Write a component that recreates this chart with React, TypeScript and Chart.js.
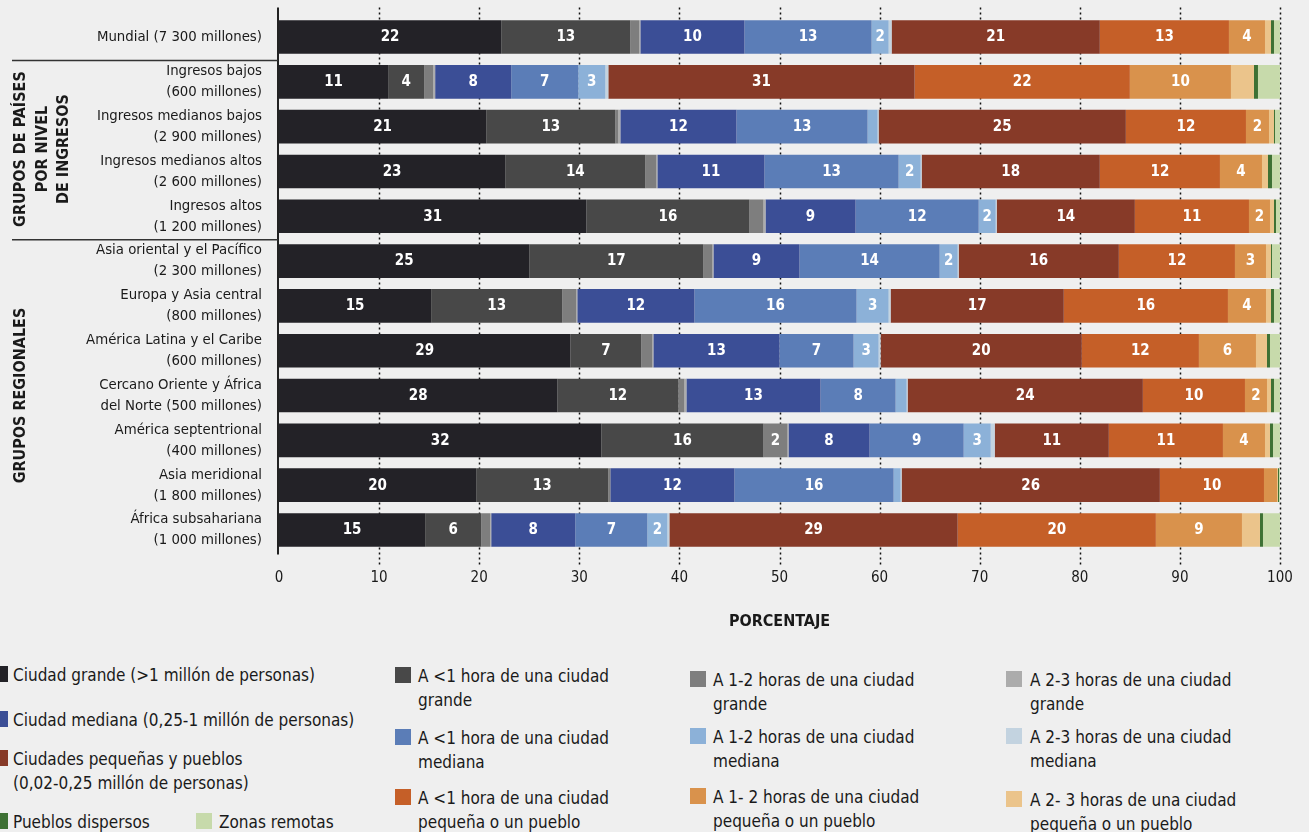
import React, { useEffect, useRef } from "react";
import { Chart, registerables } from "chart.js";

Chart.register(...registerables);

// ---------- DATA ----------
const categories: (string | string[])[] = [
  "Mundial (7 300 millones)",
  ["Ingresos bajos", "(600 millones)"],
  ["Ingresos medianos bajos", "(2 900 millones)"],
  ["Ingresos medianos altos", "(2 600 millones)"],
  ["Ingresos altos", "(1 200 millones)"],
  ["Asia oriental y el Pacífico", "(2 300 millones)"],
  ["Europa y Asia central", "(800 millones)"],
  ["América Latina y el Caribe", "(600 millones)"],
  ["Cercano Oriente y África", "del Norte (500 millones)"],
  ["América septentrional", "(400 millones)"],
  ["Asia meridional", "(1 800 millones)"],
  ["África subsahariana", "(1 000 millones)"],
];

const ciudadGrande = [22.2, 10.9, 20.7, 22.6, 30.7, 25.0, 15.2, 29.1, 27.8, 32.2, 19.7, 14.6];
const menos1hGrande = [12.9, 3.6, 12.9, 14.0, 16.3, 17.4, 13.1, 7.1, 12.1, 16.2, 13.2, 5.6];
const h12Grande = [0.9, 0.9, 0.3, 1.1, 1.4, 0.9, 1.4, 1.1, 0.6, 2.4, 0.2, 0.9];
const h23Grande = [0.1, 0.2, 0.2, 0.1, 0.2, 0.1, 0.1, 0.1, 0.2, 0.1, 0.0, 0.1];
const ciudadMediana = [10.4, 7.6, 11.6, 10.7, 9.0, 8.6, 11.7, 12.6, 13.4, 8.1, 12.4, 8.4];
const menos1hMediana = [12.7, 6.7, 13.1, 13.4, 12.3, 14.0, 16.2, 7.4, 7.5, 9.4, 15.9, 7.2];
const h12Mediana = [1.7, 2.7, 1.0, 2.2, 1.7, 1.8, 3.2, 2.5, 1.1, 2.7, 0.7, 2.0];
const h23Mediana = [0.3, 0.3, 0.1, 0.1, 0.1, 0.1, 0.2, 0.2, 0.1, 0.4, 0.1, 0.2];
const ciudadesPequenas = [20.8, 30.6, 24.7, 17.8, 13.8, 16.0, 17.3, 20.1, 23.5, 11.4, 25.8, 28.8];
const menos1hPequena = [12.9, 21.5, 12.0, 12.0, 11.4, 11.6, 16.4, 11.7, 10.2, 11.4, 10.4, 19.8];
const h12Pequena = [3.6, 10.1, 2.3, 4.2, 2.1, 3.1, 3.8, 5.7, 2.2, 4.2, 1.3, 8.6];
const h23Pequena = [0.6, 2.3, 0.5, 0.6, 0.4, 0.5, 0.5, 1.1, 0.4, 0.5, 0.1, 1.8];
const pueblosDispersos = [0.3, 0.4, 0.1, 0.4, 0.2, 0.1, 0.3, 0.3, 0.3, 0.3, 0.1, 0.3];
const zonasRemotas = [0.6, 2.2, 0.5, 0.8, 0.4, 0.8, 0.6, 1.0, 0.6, 0.7, 0.1, 1.7];

const seriesNames = [
  "Ciudad grande (>1 millón de personas)",
  "A <1 hora de una ciudad\ngrande",
  "A 1-2 horas de una ciudad\ngrande",
  "A 2-3 horas de una ciudad\ngrande",
  "Ciudad mediana (0,25-1 millón de personas)",
  "A <1 hora de una ciudad\nmediana",
  "A 1-2 horas de una ciudad\nmediana",
  "A 2-3 horas de una ciudad\nmediana",
  "Ciudades pequeñas y pueblos\n(0,02-0,25 millón de personas)",
  "A <1 hora de una ciudad\npequeña o un pueblo",
  "A 1- 2 horas de una ciudad\npequeña o un pueblo",
  "A 2- 3 horas de una ciudad\npequeña o un pueblo",
  "Pueblos dispersos",
  "Zonas remotas",
];

const seriesValues = [
  ciudadGrande, menos1hGrande, h12Grande, h23Grande,
  ciudadMediana, menos1hMediana, h12Mediana, h23Mediana,
  ciudadesPequenas, menos1hPequena, h12Pequena, h23Pequena,
  pueblosDispersos, zonasRemotas,
];

const xTickValues = [0, 10, 20, 30, 40, 50, 60, 70, 80, 90, 100];
const axisTitle = "PORCENTAJE";
const groupIncomeLines = ["GRUPOS DE PAÍSES", "POR NIVEL", "DE INGRESOS"];
const groupIncomeRange = [1, 4];
const groupRegionLines = ["GRUPOS REGIONALES"];
const groupRegionRange = [5, 11];
const separatorsAfter = [0, 4];
const labelledSeriesCount = 11;
const minLabelValue = 1.5;

// ---------- STYLE ----------
const colors = [
  "#232227", "#484848", "#7e7e7e", "#acacac",
  "#3b4e96", "#5b7db7", "#8cb1d8", "#c3d3e0",
  "#873a28", "#c55f28", "#d9924c", "#ebc48b",
  "#3e7134", "#c7daab",
];
const BG = "#efefef";
const INK = "#1a1a1a";
const FONT = "'DejaVu Sans Condensed', 'Liberation Sans Narrow', 'Roboto', sans-serif";

// legend slots: [seriesIndex, squareLeft, textLeft, firstLineCenterY]
const legendSlots: [number, number, number, number][] = [
  [0, -8, 13, 675],
  [4, -8, 13, 720],
  [8, -8, 13, 759],
  [12, -8, 13, 822],
  [13, 196, 219, 822],
  [1, 395, 418, 676],
  [5, 395, 418, 738],
  [9, 395, 418, 798],
  [2, 690, 713, 680],
  [6, 690, 713, 737],
  [10, 690, 713, 797],
  [3, 1006, 1030, 680],
  [7, 1006, 1030, 737],
  [11, 1006, 1030, 800],
];

const overlayPlugin = {
  id: "overlay",
  beforeDatasetsDraw(chart: any) {
    const { ctx, chartArea, scales } = chart;
    const x = scales.x;
    ctx.save();
    ctx.strokeStyle = "#111";
    ctx.lineWidth = 1.5;
    ctx.setLineDash([2, 3]);
    for (const v of xTickValues) {
      if (v === 0) continue;
      const px = Math.round(x.getPixelForValue(v)) + 0.5;
      ctx.beginPath();
      ctx.moveTo(px, chartArea.top - 7);
      ctx.lineTo(px, chartArea.bottom + 12);
      ctx.stroke();
    }
    ctx.restore();
  },
  afterDatasetsDraw(chart: any) {
    const { ctx, chartArea, scales } = chart;
    const x = scales.x;
    const y = scales.y;
    ctx.save();
    // axis line at 0
    ctx.strokeStyle = "#222";
    ctx.lineWidth = 2;
    const x0 = Math.round(x.getPixelForValue(0)) - 1;
    ctx.beginPath();
    ctx.moveTo(x0, chartArea.top - 7);
    ctx.lineTo(x0, chartArea.bottom + 2);
    ctx.stroke();
    // group separators
    ctx.lineWidth = 1.5;
    ctx.strokeStyle = "#333";
    for (const i of separatorsAfter) {
      const yy = (y.getPixelForValue(i) + y.getPixelForValue(i + 1)) / 2 + 1;
      ctx.beginPath();
      ctx.moveTo(12, yy);
      ctx.lineTo(x0, yy);
      ctx.stroke();
    }
    // group labels
    ctx.fillStyle = INK;
    ctx.font = `bold 16px ${FONT}`;
    ctx.textAlign = "center";
    ctx.textBaseline = "middle";
    const drawGroup = (lines: string[], range: number[]) => {
      const cy = (y.getPixelForValue(range[0]) + y.getPixelForValue(range[1])) / 2;
      ctx.save();
      ctx.translate(21, cy);
      ctx.rotate(-Math.PI / 2);
      lines.forEach((t, i) => ctx.fillText(t, 0, i * 21.5));
      ctx.restore();
    };
    drawGroup(groupIncomeLines, groupIncomeRange);
    drawGroup(groupRegionLines, groupRegionRange);
    // value labels
    ctx.fillStyle = "#ffffff";
    ctx.font = `bold 15px ${FONT}`;
    for (let di = 0; di < labelledSeriesCount; di++) {
      const meta = chart.getDatasetMeta(di);
      const data = chart.data.datasets[di].data as number[];
      meta.data.forEach((el: any, j: number) => {
        const v = data[j];
        if (v < minLabelValue) return;
        const cx = (el.x + el.base) / 2;
        ctx.fillText(String(Math.round(v)), cx, el.y + 0.5);
      });
    }
    ctx.restore();
  },
};

export default function App() {
  const canvasRef = useRef<HTMLCanvasElement | null>(null);

  useEffect(() => {
    if (!canvasRef.current) return;
    Chart.defaults.color = INK;
    const chart = new Chart(canvasRef.current, {
      type: "bar",
      data: {
        labels: categories as any,
        datasets: seriesValues.map((vals, i) => ({
          label: seriesNames[i],
          data: vals,
          backgroundColor: colors[i],
          borderWidth: 0,
          barPercentage: 0.75,
          categoryPercentage: 1,
          stack: "s",
        })),
      },
      options: {
        indexAxis: "y",
        responsive: false,
        animation: false,
        layout: { padding: { top: 14.6, right: 29, bottom: 0, left: 0 } },
        plugins: {
          legend: { display: false },
          tooltip: { enabled: false },
        },
        scales: {
          x: {
            stacked: true,
            min: 0,
            max: 100,
            ticks: {
              stepSize: 10,
              padding: 16.5,
              color: INK,
              font: { family: FONT, size: 15, lineHeight: 1.2 },
            },
            grid: { display: false, drawTicks: false },
            border: { display: false },
            title: {
              display: true,
              text: axisTitle,
              color: INK,
              font: { family: FONT, size: 16, weight: "bold", lineHeight: 1.2 },
              padding: { top: 0, bottom: 8.4 },
            },
            afterFit: (s: any) => {
              s.height = 87.6;
              s.paddingLeft = 0;
              s.paddingRight = 0;
            },
          },
          y: {
            stacked: true,
            ticks: {
              padding: 17,
              autoSkip: false,
              color: INK,
              font: { family: FONT, size: 14.8, lineHeight: 1.42 },
            },
            grid: { display: false, drawTicks: false },
            border: { display: false },
            afterFit: (s: any) => {
              s.width = 279;
              s.paddingTop = 0;
              s.paddingBottom = 0;
            },
          },
        },
      } as any,
      plugins: [overlayPlugin],
    });
    return () => chart.destroy();
  }, []);

  return (
    <div
      style={{
        position: "absolute",
        left: 0,
        top: 0,
        width: 1309,
        height: 832,
        background: BG,
        overflow: "hidden",
        fontFamily: FONT,
        color: INK,
      }}
    >
      <canvas
        ref={canvasRef}
        width={1309}
        height={640}
        style={{ position: "absolute", left: 0, top: 0, width: 1309, height: 640 }}
      />
      {legendSlots.map(([si, sqLeft, txtLeft, cy]) => (
        <React.Fragment key={si}>
          <div
            style={{
              position: "absolute",
              left: sqLeft,
              top: cy - 9,
              width: 16,
              height: 16,
              background: colors[si],
            }}
          />
          <div
            style={{
              position: "absolute",
              left: txtLeft,
              top: cy - 12,
              fontSize: 17,
              lineHeight: "24px",
              whiteSpace: "pre",
            }}
          >
            {seriesNames[si]}
          </div>
        </React.Fragment>
      ))}
    </div>
  );
}
